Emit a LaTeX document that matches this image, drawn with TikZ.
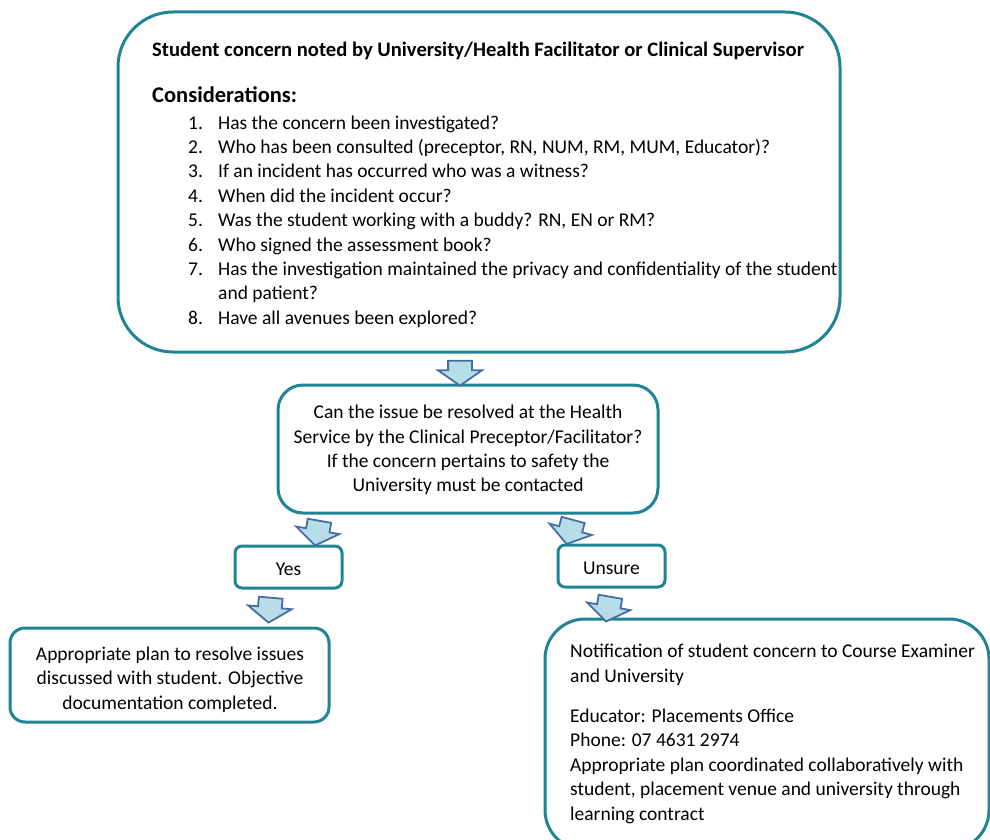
\documentclass[tikz,border=0pt]{standalone}
\usepackage{fontspec}
\setmainfont{Carlito}
\usetikzlibrary{shapes.arrows}
\definecolor{boxteal}{RGB}{30,132,150}
\definecolor{arrowfill}{RGB}{183,221,232}
\definecolor{arrowline}{RGB}{70,110,165}
\newcommand{\bodyfont}{\fontsize{19.5}{24.4}\selectfont}
\begin{document}
\begin{tikzpicture}[x=1pt,y=-1pt,
  flowbox/.style={draw=boxteal,line width=3pt,fill=white,inner sep=0pt},
  flowtext/.style={font=\bodyfont,inner sep=0pt},
  downarrow/.style={draw=arrowline,line width=1.8pt,fill=arrowfill,single arrow,
    minimum height=25pt,minimum width=42pt,single arrow head extend=10pt,
    single arrow tip angle=110,inner sep=0pt,inner ysep=11pt}]
\useasboundingbox (0,0) rectangle (990,840);

% boxes
\node[flowbox,rounded corners=55pt,minimum width=722pt,minimum height=340pt] (concern) at (479,182) {};
\node[flowbox,rounded corners=25pt,minimum width=380pt,minimum height=128pt] (resolve) at (468,449) {};
\node[flowbox,rounded corners=7pt,minimum width=107pt,minimum height=42pt] (yes) at (288.5,567) {};
\node[flowbox,rounded corners=7pt,minimum width=107pt,minimum height=42pt] (unsure) at (611.5,566) {};
\node[flowbox,rounded corners=15pt,minimum width=319pt,minimum height=94pt] (plan) at (169.5,675) {};
\node[flowbox,rounded corners=40pt,minimum width=444pt,minimum height=231pt] (notify) at (767,734.5) {};

% text of the first box
\node[flowtext,anchor=base west,font=\fontsize{20.6}{24.4}\selectfont\bfseries] (noted) at (152,57)
  {Student concern noted by University/Health Facilitator or Clinical Supervisor};
\node[flowtext,anchor=base west,font=\fontsize{22.5}{28}\selectfont\bfseries] (considerations) at (152,103)
  {Considerations:};
\node[flowtext,anchor=base west] (questions) at (188,129) {%
  \begin{tabular}[t]{@{}p{30pt}@{}l@{}}
  1. & Has the concern been investigated?\\
  2. & Who has been consulted (preceptor, RN, NUM, RM, MUM, Educator)?\\
  3. & If an incident has occurred who was a witness?\\
  4. & When did the incident occur?\\
  5. & Was the student working with a buddy? RN, EN or RM?\\
  6. & Who signed the assessment book?\\
  7. & Has the investigation maintained the privacy and confidentiality of the student\\
     & and patient?\\
  8. & Have all avenues been explored?
  \end{tabular}};

% other texts
\node[flowtext,align=center] (resolvetext) at (468,450)
  {Can the issue be resolved at the Health\\Service by the Clinical Preceptor/Facilitator?\\If the concern pertains to safety the\\University must be contacted};
\node[flowtext] (yestext) at (288.5,569) {Yes};
\node[flowtext] (unsuretext) at (611.5,568) {Unsure};
\node[flowtext,align=center] (plantext) at (170,679.5)
  {Appropriate plan to resolve issues\\discussed with student. Objective\\documentation completed.};
\node[flowtext,align=left,anchor=north west] (notifytext) at (570,644)
  {Notification of student concern to Course Examiner\\and University\\[16pt]
   Educator: Placements Office\\Phone: 07 4631 2974\\
   Appropriate plan coordinated collaboratively with\\student, placement venue and university through\\learning contract};

% arrows
\node[downarrow,rotate=-90] (arrowa) at (460,369) {};
\node[downarrow,rotate=-100] (arrowb) at (318,529) {};
\node[downarrow,rotate=-105] (arrowc) at (571,528) {};
\node[downarrow,rotate=-95] (arrowd) at (270,606) {};
\node[downarrow,rotate=-100] (arrowe) at (609,605) {};
\end{tikzpicture}
\end{document}
